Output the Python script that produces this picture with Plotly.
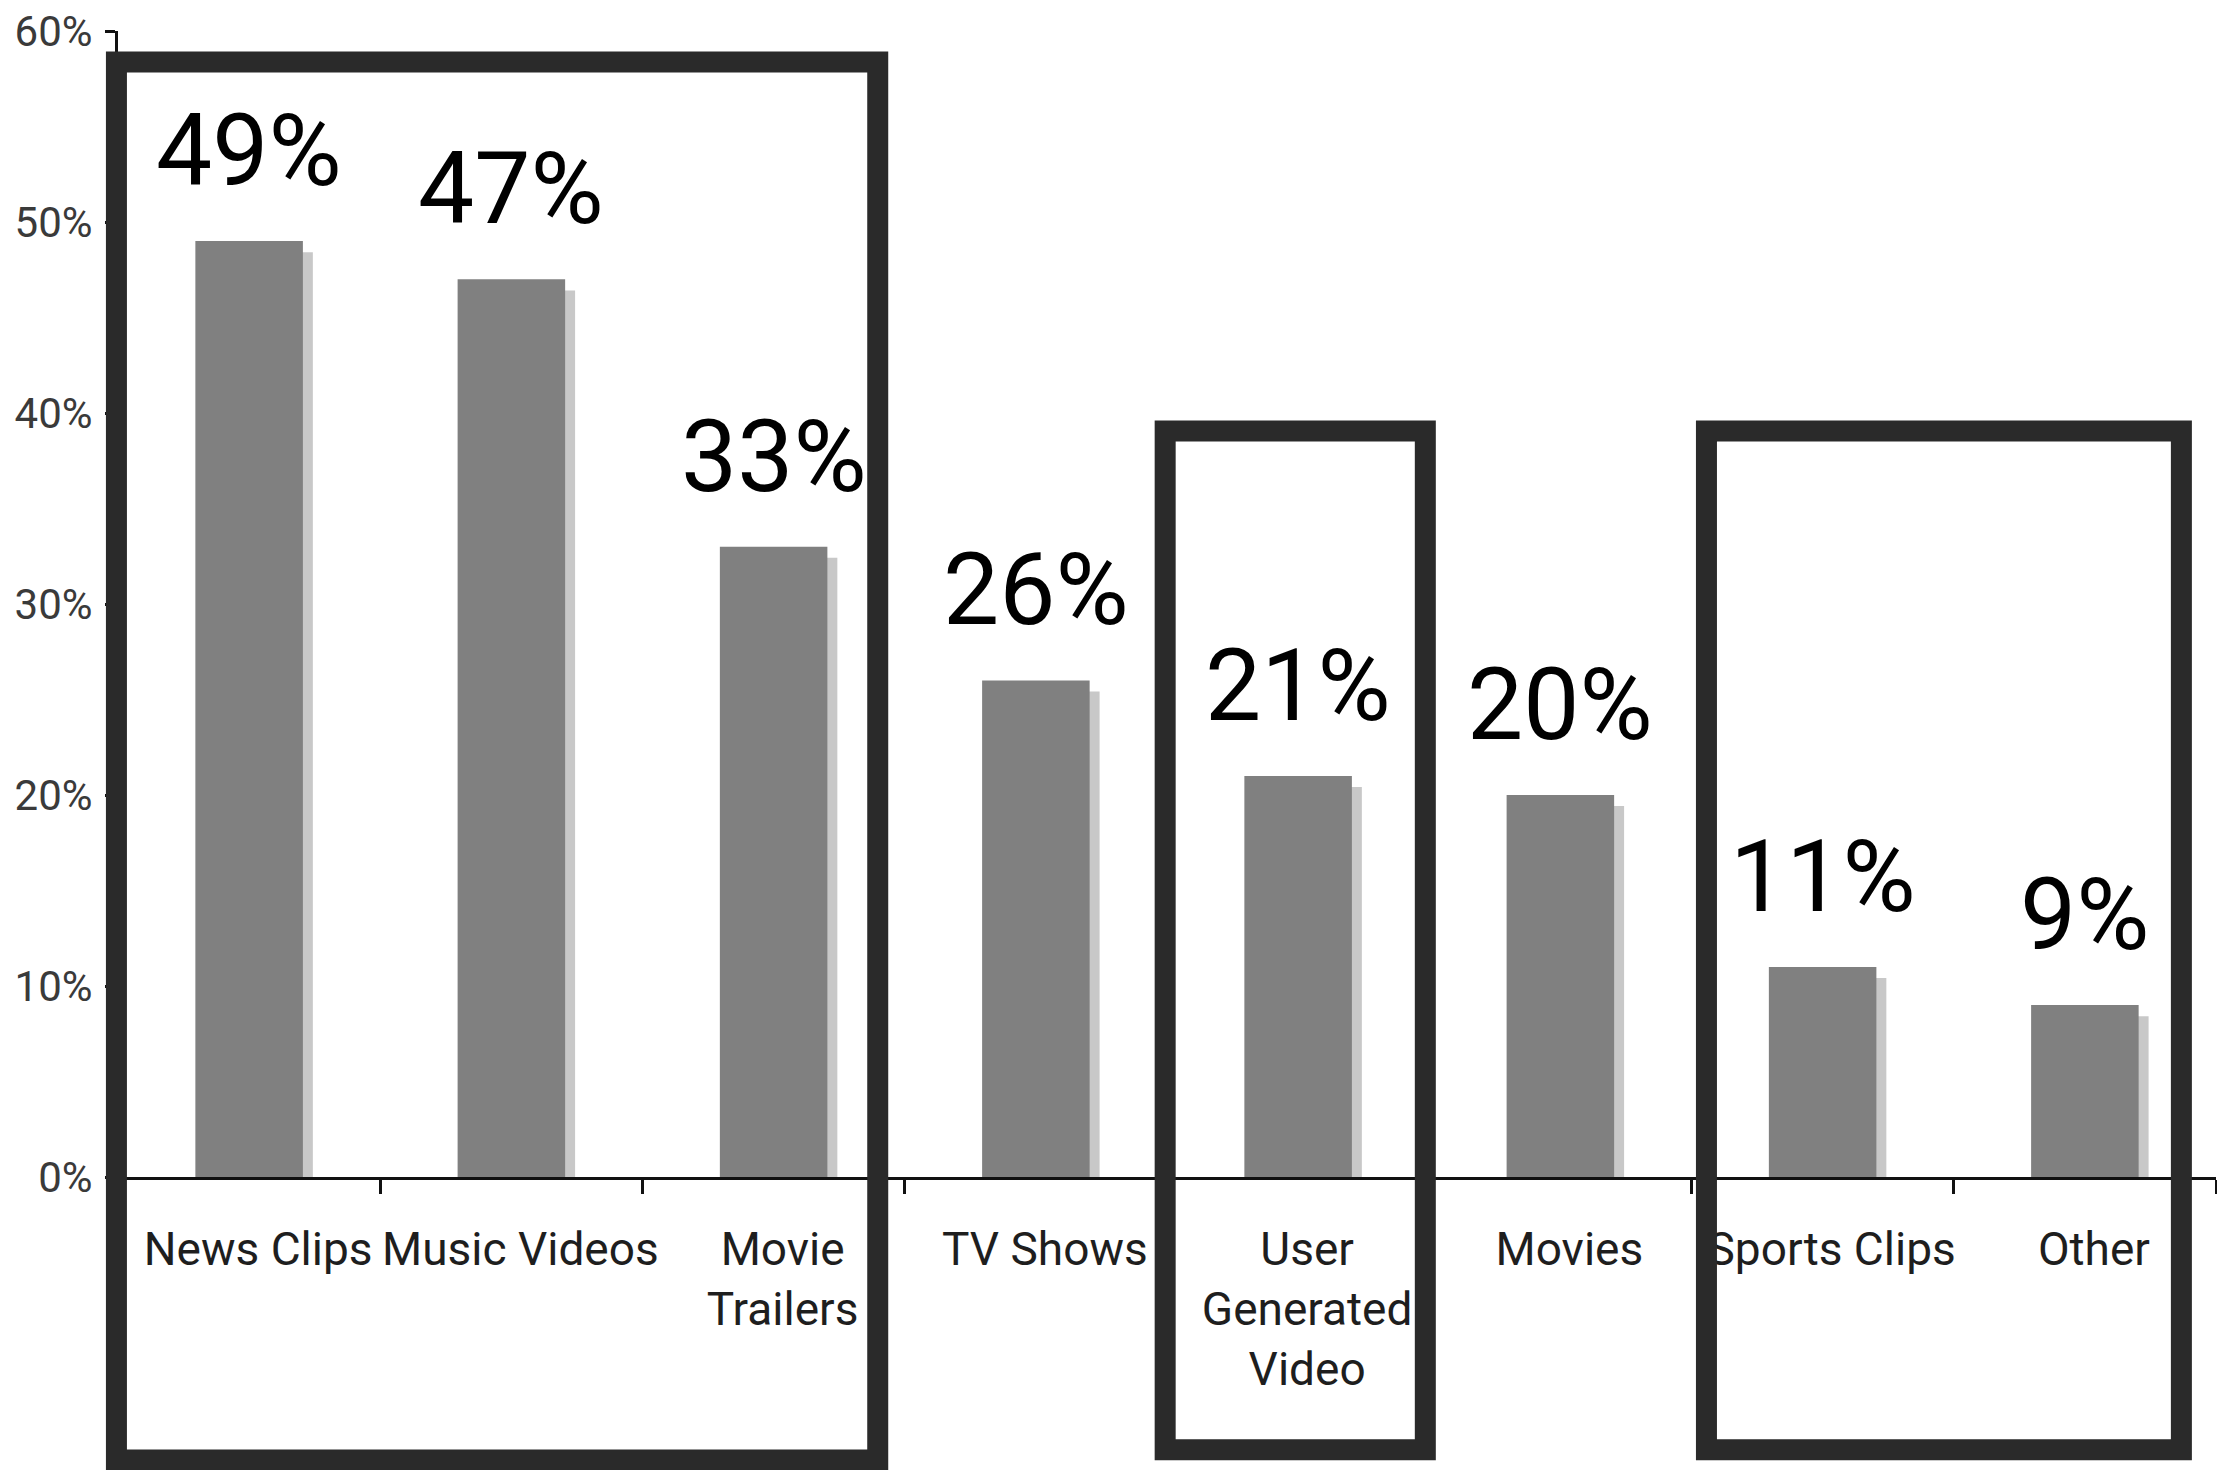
import plotly.graph_objects as go

categories = ["News Clips", "Music Videos", "Movie<br>Trailers", "TV Shows",
              "User<br>Generated<br>Video", "Movies", "Sports Clips", "Other"]
values = [49, 47, 33, 26, 21, 20, 11, 9]
y_tickvals = [0, 10, 20, 30, 40, 50, 60]
y_ticktext = ["0%", "10%", "20%", "30%", "40%", "50%", "60%"]
label_text = [f"{v}%" for v in values]

# highlight boxes: (first index, last index, left pad, right pad, top paper, bottom paper)
boxes = [
    (0, 2, -0.006, -0.103, 0.973, -0.247),
    (4, 4, -0.007, -0.015, 0.651, -0.238),
    (6, 7, 0.057, -0.132, 0.651, -0.238),
]

FONT = "Roboto, 'Open Sans', sans-serif"
BAR_W = 0.41
SHADOW_DX = 0.038
SHADOW_DY = 0.58

fig = go.Figure()
fig.add_trace(go.Bar(
    x=categories, y=values, base=-SHADOW_DY, width=BAR_W,
    offset=-BAR_W / 2 + SHADOW_DX,
    marker=dict(color="#c8c8c8", line=dict(width=0)),
    hoverinfo="skip", showlegend=False,
))
fig.add_trace(go.Bar(
    x=categories, y=values, width=BAR_W, offset=-BAR_W / 2,
    marker=dict(color="#808080", line=dict(width=0)),
    showlegend=False,
))

for c, v, t in zip(categories, values, label_text):
    fig.add_annotation(x=c, y=v, text=t, showarrow=False, yanchor="bottom",
                       xanchor="center", yshift=30,
                       font=dict(family=FONT, size=100, color="#000000"))

n = len(categories)
for i0, i1, pl, pr, top, bot in boxes:
    x0 = (i0 - 0.5 + pl + 0.5) / n
    x1 = (i1 + 0.5 + pr + 0.5) / n
    fig.add_shape(type="rect", xref="paper", yref="paper",
                  x0=x0, x1=x1, y0=bot, y1=top,
                  line=dict(color="#2a2a2a", width=21),
                  fillcolor="rgba(0,0,0,0)", layer="above")

fig.update_layout(
    width=2217, height=1470,
    margin=dict(l=118, r=1, t=31, b=293, autoexpand=False),
    paper_bgcolor="white", plot_bgcolor="white",
    barmode="overlay", bargap=0.59,
    showlegend=False,
)
fig.update_xaxes(
    type="category", range=[-0.5, n - 0.5],
    showline=True, linecolor="#111111", linewidth=3,
    ticks="outside", tickson="boundaries", ticklen=14, tickwidth=3, tickcolor="#111111",
    tickangle=0, ticklabelstandoff=30, ticklabelshift=9,
    tickfont=dict(family=FONT, size=46, color="#1e1e1e"),
    showgrid=False, zeroline=False, fixedrange=True, automargin=False,
)
fig.update_yaxes(
    range=[0, 60], tickvals=y_tickvals, ticktext=y_ticktext,
    showline=True, linecolor="#111111", linewidth=3,
    ticks="outside", ticklen=10, tickwidth=3, tickcolor="#111111",
    tickfont=dict(family=FONT, size=42, color="#3a3a3a"),
    ticklabelstandoff=4,
    showgrid=False, zeroline=False, fixedrange=True, automargin=False,
)

fig.write_html("out.html")
